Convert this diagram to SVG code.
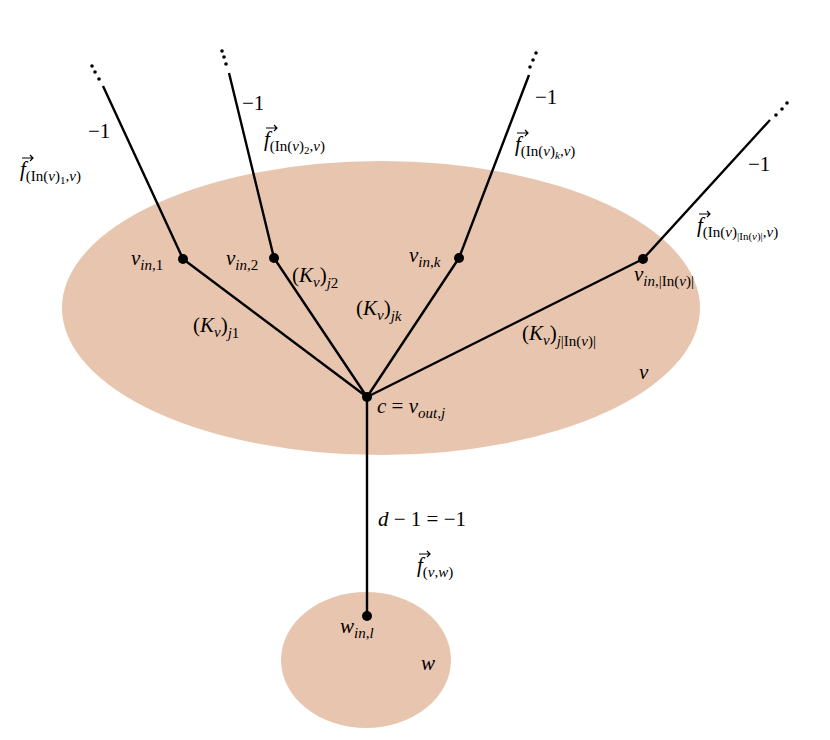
<svg xmlns="http://www.w3.org/2000/svg" width="830" height="740" viewBox="0 0 830 740">
<style>
.bl{fill:#e8c5ae}
.e{stroke:#000;stroke-width:2.4;fill:none}
.n{fill:#000}
.ar{stroke:#000;stroke-width:1.2;fill:none}
text{font-family:"Liberation Serif","DejaVu Serif",serif;font-size:21px;fill:#000}
.i{font-style:italic}
.s{font-size:15px}
</style>
<defs><path id="vec" class="ar" d="M0 0H11M8 -3L11 0L8 3"/></defs>
<rect width="830" height="740" fill="#fff"/>
<g id="v"><ellipse class="bl" cx="381" cy="308" rx="319" ry="147"/><text class="i" x="639" y="379">v</text></g>
<g id="w"><ellipse class="bl" cx="366" cy="660" rx="85" ry="68"/><text class="i" x="421" y="670">w</text></g>
<g id="connectors">
<path class="e" d="M183 259L103 86M274 258L229 73M459 258L529 75M643 259L770 120M367 397L183 259M367 397L274 258M367 397L459 258M367 397L643 259M367 397L367 616"/>
<g class="n">
<circle cx="92" cy="66" r="1.8"/><circle cx="95" cy="72" r="1.8"/><circle cx="99" cy="79" r="1.8"/>
<circle cx="222" cy="51" r="1.8"/><circle cx="224" cy="57" r="1.8"/><circle cx="226" cy="64" r="1.8"/>
<circle cx="536" cy="53" r="1.8"/><circle cx="533" cy="60" r="1.8"/><circle cx="530" cy="67" r="1.8"/>
<circle cx="787" cy="103" r="1.8"/><circle cx="782" cy="109" r="1.8"/><circle cx="776" cy="115" r="1.8"/>
</g>
<text x="88" y="138">−1</text>
<text x="242" y="110">−1</text>
<text x="535" y="104">−1</text>
<text x="748" y="171">−1</text>
<use href="#vec" x="22" y="158"/><use href="#vec" x="266" y="128"/><use href="#vec" x="517" y="133"/><use href="#vec" x="699" y="214"/><use href="#vec" x="419" y="554"/>
<text x="20" y="176"><tspan class="i">f</tspan><tspan class="s" dy="5">(In(</tspan><tspan class="s i">v</tspan><tspan class="s">)</tspan><tspan font-size="11" dy="3">1</tspan><tspan class="s" dy="-3">,</tspan><tspan class="s i">v</tspan><tspan class="s">)</tspan></text>
<text x="264" y="146"><tspan class="i">f</tspan><tspan class="s" dy="5">(In(</tspan><tspan class="s i">v</tspan><tspan class="s">)</tspan><tspan font-size="11" dy="3">2</tspan><tspan class="s" dy="-3">,</tspan><tspan class="s i">v</tspan><tspan class="s">)</tspan></text>
<text x="515" y="151"><tspan class="i">f</tspan><tspan class="s" dy="5">(In(</tspan><tspan class="s i">v</tspan><tspan class="s">)</tspan><tspan class="i" font-size="11" dy="3">k</tspan><tspan class="s" dy="-3">,</tspan><tspan class="s i">v</tspan><tspan class="s">)</tspan></text>
<text x="697" y="232"><tspan class="i">f</tspan><tspan class="s" dy="5">(In(</tspan><tspan class="s i">v</tspan><tspan class="s">)</tspan><tspan font-size="11" dy="3">|In(</tspan><tspan class="i" font-size="11">v</tspan><tspan font-size="11">)|</tspan><tspan class="s" dy="-3">,</tspan><tspan class="s i">v</tspan><tspan class="s">)</tspan></text>
<text x="193" y="332">(<tspan class="i">K</tspan><tspan class="i s" dy="5">v</tspan><tspan dy="-5">)</tspan><tspan class="i s" dy="6">j</tspan><tspan class="s">1</tspan></text>
<text x="292" y="282">(<tspan class="i">K</tspan><tspan class="i s" dy="5">v</tspan><tspan dy="-5">)</tspan><tspan class="i s" dy="6">j</tspan><tspan class="s">2</tspan></text>
<text x="356" y="315">(<tspan class="i">K</tspan><tspan class="i s" dy="5">v</tspan><tspan dy="-5">)</tspan><tspan class="i s" dy="6">jk</tspan></text>
<text x="522" y="340">(<tspan class="i">K</tspan><tspan class="i s" dy="5">v</tspan><tspan dy="-5">)</tspan><tspan class="i s" dy="6">j</tspan><tspan class="s">|In(</tspan><tspan class="i s">v</tspan><tspan class="s">)|</tspan></text>
<text class="i" x="378" y="526">d <tspan font-style="normal">− 1 = −1</tspan></text>
<text x="417" y="572"><tspan class="i">f</tspan><tspan class="s" dy="5">(</tspan><tspan class="s i">v</tspan><tspan class="s">,</tspan><tspan class="s i">w</tspan><tspan class="s">)</tspan></text>
</g>
<g id="n1"><circle class="n" cx="183" cy="259" r="5"/><text x="131" y="265"><tspan class="i">v</tspan><tspan class="s" dy="5"><tspan class="i">in</tspan>,1</tspan></text></g>
<g id="n2"><circle class="n" cx="274" cy="258" r="5"/><text x="226" y="265"><tspan class="i">v</tspan><tspan class="s" dy="5"><tspan class="i">in</tspan>,2</tspan></text></g>
<g id="nk"><circle class="n" cx="459" cy="258" r="5"/><text x="409" y="262"><tspan class="i">v</tspan><tspan class="s" dy="5"><tspan class="i">in</tspan>,<tspan class="i">k</tspan></tspan></text></g>
<g id="nl"><circle class="n" cx="643" cy="259" r="5"/><text x="634" y="281"><tspan class="i">v</tspan><tspan class="s" dy="5"><tspan class="i">in</tspan>,|In(<tspan class="i">v</tspan>)|</tspan></text></g>
<g id="c"><circle class="n" cx="367" cy="397" r="5"/><text x="377" y="413"><tspan class="i">c</tspan> = <tspan class="i">v</tspan><tspan class="s i" dy="5">out,j</tspan></text></g>
<g id="wn"><circle class="n" cx="367" cy="616" r="5"/><text x="340" y="633"><tspan class="i">w</tspan><tspan class="s i" dy="5">in,l</tspan></text></g>
</svg>
